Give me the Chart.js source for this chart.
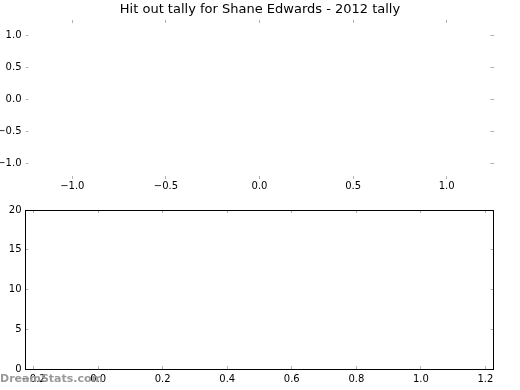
<!DOCTYPE html>
<html lang="en">
<head>
    <meta charset="UTF-8">
    <title>Hit out tally for Shane Edwards - 2012 tally</title>
    <script src="https://cdn.jsdelivr.net/npm/chart.js"></script>
    <style>
        html, body { margin: 0; padding: 0; background: #fff; }
        #wrap { position: relative; width: 520px; height: 390px; overflow: hidden; }
        #pie-chart { position: absolute; left: 0; top: 0; }
        #bar-chart { position: absolute; left: 0; top: 200px; }
        #watermark {
            position: absolute; left: 0; top: 373px;
            font: bold 11px "DejaVu Sans", sans-serif; line-height: 1;
            color: #999; white-space: nowrap;
        }
    </style>
</head>
<body>
    <div id="wrap">
        <canvas id="pie-chart" width="520" height="200"></canvas>
        <canvas id="bar-chart" width="520" height="190"></canvas>
        <div id="watermark">DreamStats.com</div>
    </div>

    <script>
        // Data - no hit outs recorded for the season, so both plots are empty
        const titleText = 'Hit out tally for Shane Edwards - 2012 tally';
        const pieLabels = [];
        const pieValues = [];
        const rounds = [];
        const hitOuts = [];

        // Axis limits and tick values
        const pieRange = [-1.25, 1.25];
        const pieTicks = [-1.0, -0.5, 0.0, 0.5, 1.0];
        const barXRange = [-0.225, 1.225];
        const barXTicks = [-0.2, 0.0, 0.2, 0.4, 0.6, 0.8, 1.0, 1.2];
        const barYRange = [0, 20];
        const barYTicks = [0, 5, 10, 15, 20];

        Chart.defaults.font.family = '"DejaVu Sans", sans-serif';
        Chart.defaults.font.size = 10;
        Chart.defaults.color = '#000';

        const tickGray = '#b0b0b0';

        // force a scale box to a fixed size so both plots line up like the original
        function fixedSize(size) {
            return (scale) => {
                if (scale.isHorizontal()) scale.height = size;
                else scale.width = size;
                // labels may hang over the edges, don't let them push the plot area
                scale.paddingTop = 0;
                scale.paddingBottom = 0;
                scale.paddingLeft = 0;
                scale.paddingRight = 0;
            };
        }

        function oneDecimal(v) {
            if (Math.abs(v) < 1e-9) v = 0;
            return v.toFixed(1).replace('-', '\u2212');
        }

        function makeAxis(position, range, tickValues, boxSize, showLabels, pad, fmt, frame) {
            return {
                type: 'linear',
                position: position,
                min: range[0],
                max: range[1],
                afterBuildTicks: (scale) => {
                    scale.ticks = tickValues.map((v) => ({ value: v }));
                },
                afterFit: fixedSize(boxSize),
                ticks: {
                    display: showLabels,
                    autoSkip: false,
                    maxRotation: 0,
                    padding: pad,
                    callback: fmt
                },
                grid: {
                    drawOnChartArea: false,
                    drawTicks: true,
                    tickLength: -3,   // inward ticks
                    tickColor: tickGray,
                    tickWidth: 1
                },
                border: { display: frame, color: '#000', width: 1 }
            };
        }

        const pieData = pieValues.map((v, i) => ({ x: i, y: v }));
        const barData = hitOuts.map((v, i) => ({ x: rounds[i], y: v }));

        // Top plot: empty pie axes (ticks only, no frame)
        new Chart(document.getElementById('pie-chart'), {
            type: 'scatter',
            data: { labels: pieLabels, datasets: [{ data: pieData }] },
            options: {
                responsive: false,
                animation: false,
                layout: { padding: 0 },
                plugins: {
                    legend: { display: false },
                    tooltip: { enabled: false },
                    title: {
                        display: true,
                        text: titleText,
                        color: '#000',
                        font: { size: 13, weight: 'normal' },
                        padding: { top: 2, bottom: 2.4 }
                    }
                },
                scales: {
                    x: makeAxis('bottom', pieRange, pieTicks, 21, true, 4, oneDecimal, false),
                    x2: makeAxis('top', pieRange, pieTicks, 0, false, 0, oneDecimal, false),
                    y: makeAxis('left', pieRange, pieTicks, 25.5, true, 7, oneDecimal, false),
                    y2: makeAxis('right', pieRange, pieTicks, 26.5, false, 0, oneDecimal, false)
                }
            }
        });

        // Bottom plot: empty bar axes with a black frame
        new Chart(document.getElementById('bar-chart'), {
            type: 'scatter',
            data: { labels: rounds, datasets: [{ data: barData }] },
            options: {
                responsive: false,
                animation: false,
                layout: { padding: { top: 10 } },
                plugins: {
                    legend: { display: false },
                    tooltip: { enabled: false }
                },
                scales: {
                    x: makeAxis('bottom', barXRange, barXTicks, 21, true, 7, oneDecimal, true),
                    x2: makeAxis('top', barXRange, barXTicks, 0, false, 0, oneDecimal, true),
                    y: makeAxis('left', barYRange, barYTicks, 25.5, true, 7, (v) => String(v), true),
                    y2: makeAxis('right', barYRange, barYTicks, 26.5, false, 0, (v) => String(v), true)
                }
            }
        });
    </script>
</body>
</html>
